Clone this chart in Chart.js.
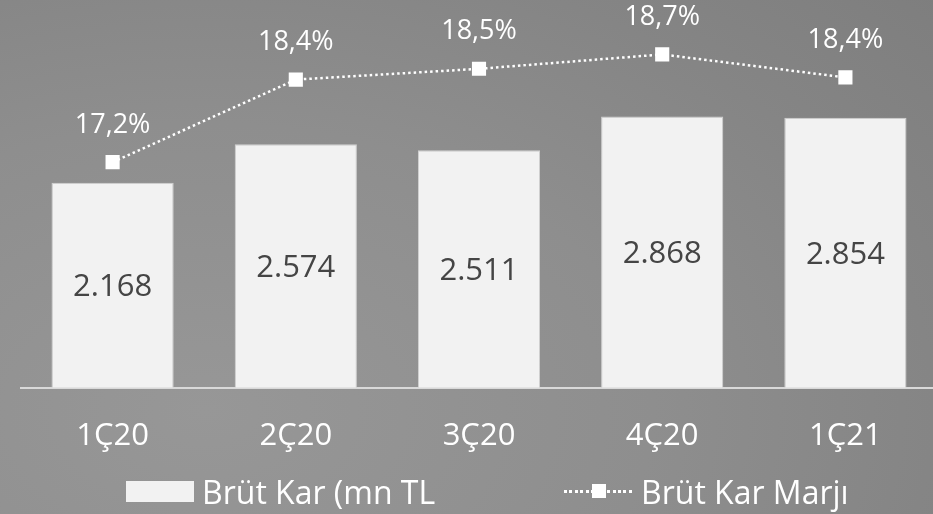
<!DOCTYPE html>
<html>
<head>
<meta charset="utf-8">
<script src="https://cdn.jsdelivr.net/npm/chart.js@4/dist/chart.umd.min.js"></script>
<style>
  html, body { margin: 0; padding: 0; width: 933px; height: 514px; overflow: hidden; }
  body {
    background: radial-gradient(ellipse 120% 140% at 22% 80%, #979797 0%, #8e8e8e 40%, #858585 65%, #7a7a7a 100%);
    font-family: "Open Sans", sans-serif;
    position: relative;
  }
  #wrap { position: absolute; left: 0; top: 0; width: 937px; height: 485px; }
  .legend-item { position: absolute; top: 471px; height: 40px; display: flex; align-items: center; color: #fff; font-size: 32px; }
  .legend-box { width: 68px; height: 21px; background: #f2f2f2; margin-right: 8px; }
  .legend-line { position: relative; width: 68px; height: 21px; margin-right: 9px; }
  .legend-line .dots { position: absolute; left: 0; top: 9px; width: 68px; height: 3px;
    background: repeating-linear-gradient(90deg, #fff 0 3px, transparent 3px 5.4px); }
  .legend-line .sq { position: absolute; left: 28px; top: 3.5px; width: 14px; height: 14px; background: #fff; }
</style>
</head>
<body>
<div id="wrap"><canvas id="grossChart" width="937" height="485"></canvas></div>
<div class="legend-item" style="left:126px"><span class="legend-box"></span>Brüt Kar (mn TL</div>
<div class="legend-item" style="left:564px"><span class="legend-line"><span class="dots"></span><span class="sq"></span></span>Brüt Kar Marjı</div>
<script>
  const quarters = ["1Ç20", "2Ç20", "3Ç20", "4Ç20", "1Ç21"];
  const grossProfit = [2168, 2574, 2511, 2868, 2854];   // mn TL
  const grossMargin = [17.2, 18.35, 18.5, 18.7, 18.38]; // %

  function fmtThousands(v) {
    return String(Math.round(v)).replace(/\B(?=(\d{3})+(?!\d))/g, ".");
  }
  function fmtPct(v) {
    return (Math.round(v * 10) / 10).toFixed(1).replace(".", ",") + "%";
  }

  // draw values on bars and above line points
  const valueLabels = {
    id: 'valueLabels',
    afterDatasetsDraw(chart) {
      const ctx = chart.ctx;
      ctx.save();
      ctx.textAlign = 'center';
      ctx.textBaseline = 'middle';
      chart.data.datasets.forEach((ds, i) => {
        const meta = chart.getDatasetMeta(i);
        meta.data.forEach((el, j) => {
          if (ds.type === 'line') {
            ctx.font = '27px "Open Sans"';
            ctx.fillStyle = '#ffffff';
            ctx.fillText(fmtPct(ds.data[j]), el.x, el.y - 37);
          } else {
            ctx.font = '31px "Open Sans"';
            ctx.fillStyle = '#454545';
            ctx.fillText(fmtThousands(ds.data[j]), el.x, (el.y + el.base) / 2 + 2);
          }
        });
      });
      ctx.restore();
    }
  };

  const ctx = document.getElementById('grossChart').getContext('2d');
  new Chart(ctx, {
    type: 'bar',
    data: {
      labels: quarters,
      datasets: [
        {
          type: 'line',
          label: 'Brüt Kar Marjı',
          data: grossMargin,
          yAxisID: 'y2',
          order: 0,
          borderColor: '#ffffff',
          borderWidth: 2.5,
          borderDash: [2.5, 3],
          tension: 0,
          fill: false,
          pointStyle: 'rect',
          pointRadius: 10,
          pointBackgroundColor: '#ffffff',
          pointBorderWidth: 0
        },
        {
          label: 'Brüt Kar (mn TL',
          data: grossProfit,
          yAxisID: 'y',
          order: 1,
          backgroundColor: '#f2f2f2',
          borderColor: '#d2d2d2',
          borderWidth: 1,
          categoryPercentage: 1,
          barPercentage: 0.667
        }
      ]
    },
    options: {
      responsive: false,
      animation: false,
      layout: { autoPadding: false, padding: { left: 21, right: 0, top: 0, bottom: 0 } },
      plugins: {
        legend: { display: false },
        tooltip: { enabled: false }
      },
      scales: {
        x: {
          grid: { display: false, drawTicks: false },
          border: { display: true, color: '#d9d9d9', width: 2 },
          ticks: { color: '#ffffff', font: { family: 'Open Sans', size: 31 }, padding: 30 }
        },
        y: { display: false, min: 0, max: 4100 },
        y2: { display: false, position: 'right', min: 14.058, max: 19.458 }
      }
    },
    plugins: [valueLabels]
  });
</script>
</body>
</html>
